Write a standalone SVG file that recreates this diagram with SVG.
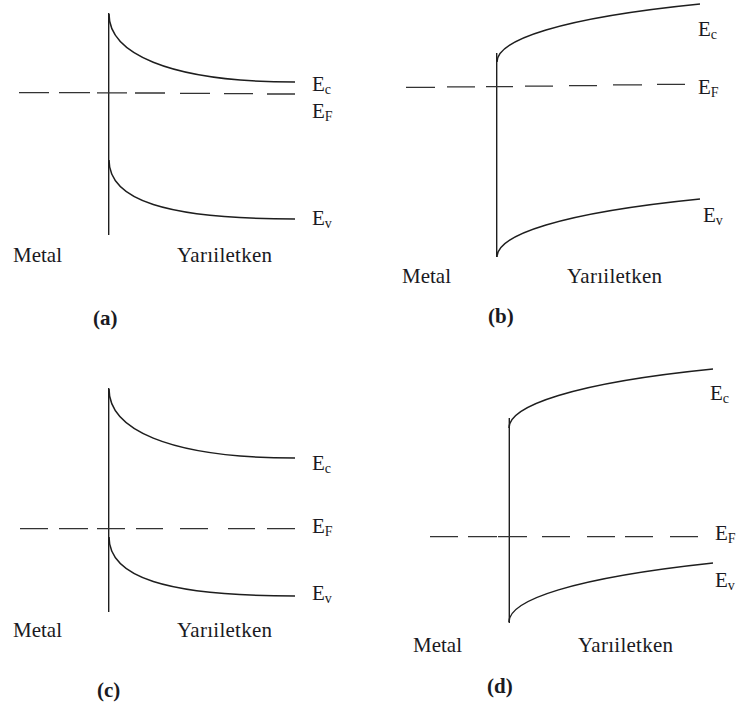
<svg xmlns="http://www.w3.org/2000/svg" width="741" height="709" viewBox="0 0 741 709">
<style>
.band{fill:none;stroke:#1e1e1e;stroke-width:1.5}
.wall{fill:none;stroke:#1e1e1e;stroke-width:1.4}
.ef{fill:none;stroke:#333;stroke-width:1.3}
.lbl{font-family:"Liberation Serif","Times New Roman",serif;font-size:21px;fill:#1a1a22}
.sub{font-size:14px}
.side{font-family:"Liberation Serif","Times New Roman",serif;font-size:21px;fill:#1a1a22}
.cap{font-family:"Liberation Serif","Times New Roman",serif;font-size:21px;font-weight:bold;fill:#1a1a22}
</style>
<rect width="741" height="709" fill="#fff"/>

<g id="panel-a">
  <line class="wall" x1="108.7" y1="13" x2="108.7" y2="235"/>
  <path class="band" d="M109,14 C109,52 165,82 295,82"/>
  <path class="band" d="M109,160 C109,200 165,219 295,219"/>
  <path class="ef" d="M19,92.6 H49 M59,92.7 H90 M97,92.8 H127 M135,93 H165 M180,93.3 H210 M224,93.6 H253 M267,94 H295"/>
  <text class="lbl" x="312" y="91">E<tspan class="sub" dy="3">c</tspan></text>
  <text class="lbl" x="312" y="118">E<tspan class="sub" dy="3">F</tspan></text>
  <text class="lbl" x="312" y="225">E<tspan class="sub" dy="3">v</tspan></text>
  <text class="side" x="13" y="262">Metal</text>
  <text class="side" x="177" y="262" textLength="95" lengthAdjust="spacing">Yarıiletken</text>
  <text class="cap" x="93" y="325">(a)</text>
</g>

<g id="panel-b">
  <line class="wall" x1="496.7" y1="53" x2="496.7" y2="257"/>
  <path class="band" d="M497,62 C497,40 560,18 700,4"/>
  <path class="band" d="M497,257 C497,235 560,213 700,199"/>
  <path class="ef" d="M406,87.3 H435 M447,86.9 H475 M486,86.6 H513 M525,86.2 H553 M569,85.7 H597 M613,84.9 H642 M657,84.3 H685"/>
  <text class="lbl" x="698" y="36">E<tspan class="sub" dy="3">c</tspan></text>
  <text class="lbl" x="698" y="94">E<tspan class="sub" dy="3">F</tspan></text>
  <text class="lbl" x="703" y="222">E<tspan class="sub" dy="3">v</tspan></text>
  <text class="side" x="402" y="283">Metal</text>
  <text class="side" x="567" y="283" textLength="95" lengthAdjust="spacing">Yarıiletken</text>
  <text class="cap" x="488" y="323">(b)</text>
</g>

<g id="panel-c">
  <line class="wall" x1="108.7" y1="388" x2="108.7" y2="612"/>
  <path class="band" d="M109,389 C109,428 165,458 295,458"/>
  <path class="band" d="M109,537 C109,577 165,596 295,596"/>
  <path class="ef" d="M20,528.7 H48 M59,528.7 H88 M97,528.7 H125 M136,528.7 H163 M180,528.7 H208 M228,528.7 H255 M267,528.7 H295"/>
  <text class="lbl" x="312" y="470">E<tspan class="sub" dy="3">c</tspan></text>
  <text class="lbl" x="312" y="533">E<tspan class="sub" dy="3">F</tspan></text>
  <text class="lbl" x="312" y="600">E<tspan class="sub" dy="3">v</tspan></text>
  <text class="side" x="13" y="637">Metal</text>
  <text class="side" x="177" y="637" textLength="95" lengthAdjust="spacing">Yarıiletken</text>
  <text class="cap" x="97" y="697">(c)</text>
</g>

<g id="panel-d">
  <line class="wall" x1="509.3" y1="418" x2="509.3" y2="623"/>
  <path class="band" d="M509,428 C509,406 573,383 713,369"/>
  <path class="band" d="M509,622 C509,600 573,578 713,563"/>
  <path class="ef" d="M430,536.7 H458 M468,536.7 H497 M498,536.7 H527 M542,536.7 H570 M587,536.7 H615 M625,536.7 H653 M670,536.7 H698"/>
  <text class="lbl" x="710" y="400">E<tspan class="sub" dy="3">c</tspan></text>
  <text class="lbl" x="715" y="540">E<tspan class="sub" dy="3">F</tspan></text>
  <text class="lbl" x="715" y="587">E<tspan class="sub" dy="3">v</tspan></text>
  <text class="side" x="413" y="652">Metal</text>
  <text class="side" x="578" y="652" textLength="95" lengthAdjust="spacing">Yarıiletken</text>
  <text class="cap" x="487" y="693">(d)</text>
</g>
</svg>
